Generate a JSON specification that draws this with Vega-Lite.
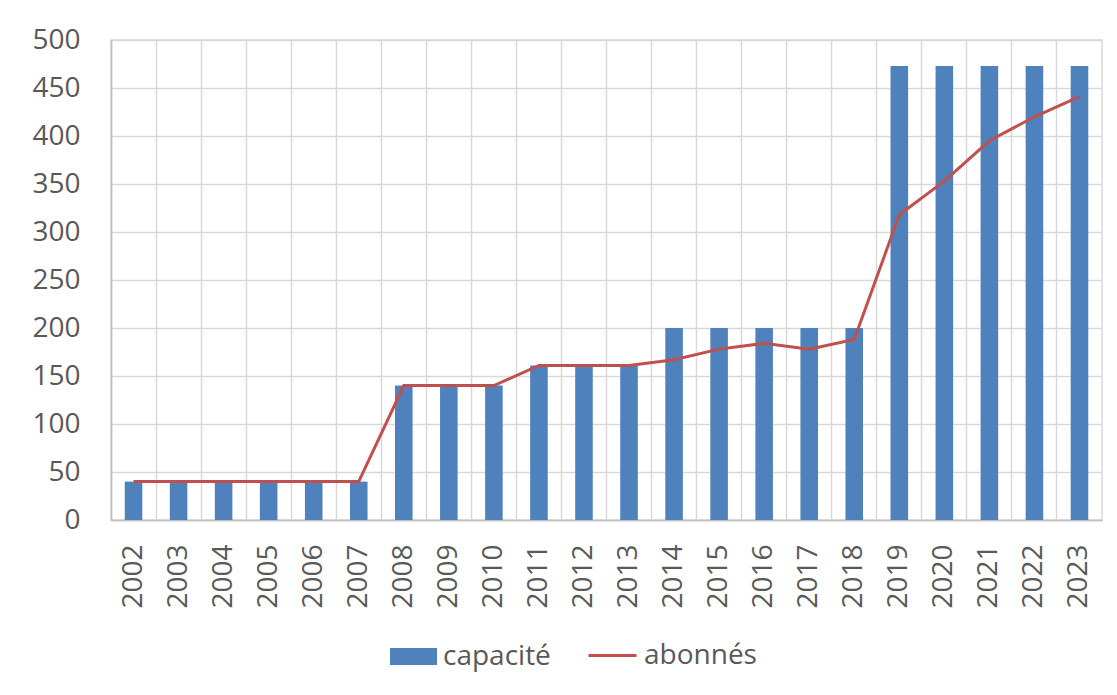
{
  "$schema": "https://vega.github.io/schema/vega-lite/v6.json",
  "width": 991,
  "height": 480,
  "autosize": {"type": "none"},
  "padding": {"left": 111, "top": 40, "right": 15, "bottom": 175},
  "background": "white",
  "config": {
    "view": {"stroke": "#D9D9D9", "strokeWidth": 1.5},
    "axis": {
      "labelFont": "Open Sans",
      "labelFontSize": 28,
      "labelColor": "#595959",
      "gridColor": "#D9D9D9",
      "gridWidth": 1.5,
      "ticks": false,
      "title": null
    },
    "legend": {
      "labelFont": "Open Sans",
      "labelFontSize": 28,
      "labelColor": "#595959",
      "padding": 0,
      "title": null
    }
  },
  "data": {
    "values": [
      {"annee": "2002", "capacite": 40, "abonnes": 40},
      {"annee": "2003", "capacite": 40, "abonnes": 40},
      {"annee": "2004", "capacite": 40, "abonnes": 40},
      {"annee": "2005", "capacite": 40, "abonnes": 40},
      {"annee": "2006", "capacite": 40, "abonnes": 40},
      {"annee": "2007", "capacite": 40, "abonnes": 40},
      {"annee": "2008", "capacite": 140, "abonnes": 140},
      {"annee": "2009", "capacite": 140, "abonnes": 140},
      {"annee": "2010", "capacite": 140, "abonnes": 140},
      {"annee": "2011", "capacite": 161, "abonnes": 161},
      {"annee": "2012", "capacite": 161, "abonnes": 161},
      {"annee": "2013", "capacite": 161, "abonnes": 161},
      {"annee": "2014", "capacite": 200, "abonnes": 167},
      {"annee": "2015", "capacite": 200, "abonnes": 178},
      {"annee": "2016", "capacite": 200, "abonnes": 184},
      {"annee": "2017", "capacite": 200, "abonnes": 178},
      {"annee": "2018", "capacite": 200, "abonnes": 188},
      {"annee": "2019", "capacite": 473, "abonnes": 318},
      {"annee": "2020", "capacite": 473, "abonnes": 353},
      {"annee": "2021", "capacite": 473, "abonnes": 395},
      {"annee": "2022", "capacite": 473, "abonnes": 420},
      {"annee": "2023", "capacite": 473, "abonnes": 441}
    ]
  },
  "encoding": {
    "x": {
      "field": "annee",
      "type": "nominal",
      "sort": null,
      "scale": {"paddingInner": 0, "paddingOuter": 0},
      "axis": {
        "labelAngle": -90,
        "labelAlign": "right",
        "labelBaseline": "middle",
        "labelPadding": 24,
        "bandPosition": 0,
        "grid": true,
        "domainColor": "#BFBFBF",
        "domainWidth": 1.5
      }
    }
  },
  "layer": [
    {
      "mark": {"type": "bar", "width": {"band": 0.39}},
      "encoding": {
        "y": {
          "field": "capacite",
          "type": "quantitative",
          "scale": {"domain": [0, 500], "nice": false},
          "axis": {
            "values": [0, 50, 100, 150, 200, 250, 300, 350, 400, 450, 500],
            "labelPadding": 31,
            "grid": true,
            "domainColor": "#BFBFBF",
            "domainWidth": 1.5
          }
        },
        "fill": {
          "datum": "capacité",
          "type": "nominal",
          "scale": {"range": ["#4F81BD"]},
          "legend": {
            "orient": "none",
            "legendX": 279,
            "legendY": 593,
            "symbolType": "M-1,-0.36H1V0.36H-1Z",
            "symbolSize": 2209,
            "symbolStrokeWidth": 0,
            "labelOffset": 6
          }
        }
      }
    },
    {
      "mark": {"type": "line", "strokeWidth": 3},
      "encoding": {
        "y": {"field": "abonnes", "type": "quantitative"},
        "stroke": {
          "datum": "abonnés",
          "type": "nominal",
          "scale": {"range": ["#C0504D"]},
          "legend": {
            "orient": "none",
            "legendX": 476,
            "legendY": 590,
            "symbolType": "stroke",
            "symbolSize": 2304,
            "symbolStrokeWidth": 3,
            "labelOffset": 6
          }
        }
      }
    }
  ]
}
